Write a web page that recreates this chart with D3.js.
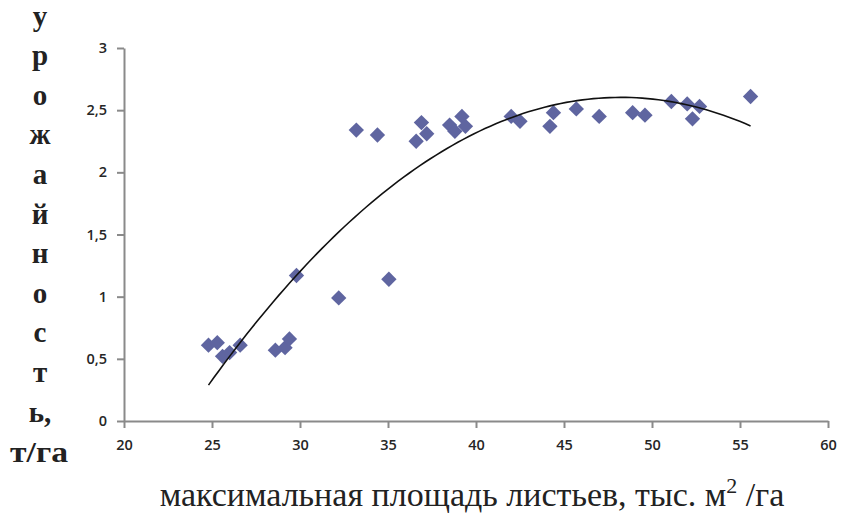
<!DOCTYPE html>
<html><head><meta charset="utf-8">
<script src="https://cdn.jsdelivr.net/npm/d3@7"></script>
<style>body{margin:0;background:#fff}svg{display:block}</style>
</head><body>
<script>
const xValues = [24.8,25.3,25.6,26.0,26.6,28.6,29.15,29.4,29.8,32.2,35.05,33.2,34.4,36.6,36.9,37.2,38.5,38.8,39.2,39.4,42.0,42.5,44.2,44.4,45.7,47.0,48.9,49.6,51.1,52.0,52.3,52.7,55.6];
const yValues = [0.61,0.63,0.52,0.55,0.61,0.57,0.59,0.66,1.17,0.99,1.14,2.34,2.30,2.25,2.40,2.31,2.38,2.33,2.45,2.37,2.45,2.41,2.37,2.48,2.51,2.45,2.48,2.46,2.57,2.55,2.43,2.53,2.61];
const xTicks = [20,25,30,35,40,45,50,55,60];
const yTicks = [0,0.5,1,1.5,2,2.5,3];
const yTitleLetters = ["у","р","о","ж","а","й","н","о","с","т","ь,"];
const yTitleUnit = "т/га";
const xTitle = "максимальная площадь листьев, тыс. м";

const W = 841, H = 514;
const svg = d3.select("body").append("svg").attr("width", W).attr("height", H);
const x = d3.scaleLinear().domain([20,60]).range([124,828]);
const y = d3.scaleLinear().domain([0,3]).range([421,48]);
const fmt = d => String(d).replace(".", ",");

const axisColor = "#8a8a8a";
const xAxis = svg.append("g").attr("transform","translate(0,421)")
  .call(d3.axisBottom(x).tickValues(xTicks).tickSize(7).tickSizeOuter(0).tickPadding(12).tickFormat(fmt));
const yAxis = svg.append("g").attr("transform","translate(124,0)")
  .call(d3.axisLeft(y).tickValues(yTicks).tickSize(7).tickSizeOuter(0).tickPadding(10).tickFormat(fmt));
[xAxis,yAxis].forEach(g=>{
  g.selectAll("path,line").attr("stroke",axisColor).attr("stroke-width",2);
  g.selectAll("text").attr("fill","#262626").style("font-family","'Open Sans', 'Liberation Sans', sans-serif").style("font-size","14.5px").style("font-weight","600");
});

// quadratic least-squares trendline computed from the points
function quadFit(xs, ys){
  let S=[0,0,0,0,0], T=[0,0,0];
  xs.forEach((xv,i)=>{let p=1;for(let k=0;k<5;k++){S[k]+=p;if(k<3)T[k]+=p*ys[i];p*=xv;}});
  const A=[[S[0],S[1],S[2],T[0]],[S[1],S[2],S[3],T[1]],[S[2],S[3],S[4],T[2]]];
  for(let i=0;i<3;i++){for(let j=i+1;j<3;j++){const f=A[j][i]/A[i][i];for(let k=i;k<4;k++)A[j][k]-=f*A[i][k];}}
  const c=[0,0,0];
  for(let i=2;i>=0;i--){let s=A[i][3];for(let k=i+1;k<3;k++)s-=A[i][k]*c[k];c[i]=s/A[i][i];}
  return c;
}
const c = quadFit(xValues, yValues);
const xmin = d3.min(xValues), xmax = d3.max(xValues);
const trend = d3.range(0,101).map(i=>{const xv=xmin+(xmax-xmin)*i/100;return [xv,c[0]+c[1]*xv+c[2]*xv*xv];});

const pts = xValues.map((v,i)=>[v,yValues[i]]);
svg.append("g").selectAll("path").data(pts).join("path")
  .attr("d", d3.symbol(d3.symbolDiamond2, 150))
  .attr("transform", d=>`translate(${x(d[0])},${y(d[1])})`)
  .attr("fill","#5f65a0");

svg.append("path").datum(trend)
  .attr("d", d3.line().x(d=>x(d[0])).y(d=>y(d[1])))
  .attr("fill","none").attr("stroke","#111").attr("stroke-width",1.6);

// y title
const yt = svg.append("g").style("font-family","'Liberation Serif', 'DejaVu Serif', serif").style("font-size","29px").style("font-weight","bold").attr("fill","#222");
yt.selectAll("text").data(yTitleLetters).join("text")
  .attr("x", 40).attr("y", (d,i)=>19+i*39.6).attr("text-anchor","middle").attr("dominant-baseline","middle").text(d=>d);
yt.append("text").attr("x",39).attr("y",455).attr("text-anchor","middle").attr("dominant-baseline","middle")
  .attr("textLength",58).attr("lengthAdjust","spacingAndGlyphs").text(yTitleUnit);

// x title
const xt = svg.append("text").attr("x", 472).attr("y", 506).attr("text-anchor","middle")
  .style("font-family","'Liberation Serif', 'DejaVu Serif', serif").style("font-size","34px").attr("fill","#222");
xt.append("tspan").text(xTitle);
xt.append("tspan").attr("dy",-13).style("font-size","22px").text("2");
xt.append("tspan").attr("dy",13).text(" /га");
</script>
</body></html>
